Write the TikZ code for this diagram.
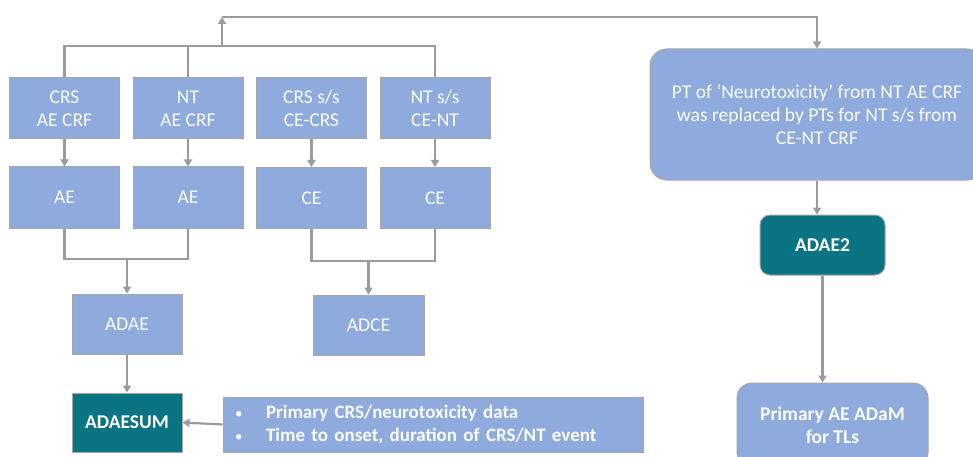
\documentclass[tikz,border=0pt]{standalone}
\usepackage{fontspec}
\setmainfont{Carlito}
\usetikzlibrary{arrows.meta}
\definecolor{boxblue}{HTML}{8FAADC}
\definecolor{boxedge}{HTML}{A6A6A6}
\definecolor{linegray}{HTML}{9E9A9A}
\definecolor{tealbox}{HTML}{0B7482}
\newcommand{\notebullet}{\makebox[31pt][l]{\fontsize{15}{23}\selectfont\mdseries\textbullet}}
\begin{document}
\begin{tikzpicture}[x=1pt,y=-1pt,
  box/.style={draw=boxedge,line width=1pt,fill=boxblue,text=white!96!boxblue,
    align=center,inner sep=0pt,minimum width=110pt,minimum height=61pt,
    font=\fontsize{19.5}{23}\selectfont},
  darkbox/.style={box,fill=tealbox,text=white,font=\fontsize{19.5}{23}\selectfont\bfseries},
  conn/.style={draw=linegray,line width=2.2pt},
  arr/.style={conn,-{Triangle[length=7pt,width=8pt]}}]
\useasboundingbox (0,0) rectangle (973,457);
% source CRFs
\node[box] (crs) at (64.5,108.5) {CRS\\AE CRF};
\node[box] (nt) at (188,108.5) {NT\\AE CRF};
\node[box] (crsss) at (311.5,108.5) {CRS s/s\\CE-CRS};
\node[box] (ntss) at (435,108.5) {NT s/s\\CE-NT};
% SDTM
\node[box] (ae1) at (64.5,197.5) {AE};
\node[box] (ae2) at (188,197.5) {AE};
\node[box] (ce1) at (311.5,198) {CE};
\node[box] (ce2) at (435,198) {CE};
% ADaM
\node[box,minimum height=60pt] (adae) at (127,324) {ADAE};
\node[box,minimum height=60pt,minimum width=111pt] (adce) at (368.5,325) {ADCE};
\node[darkbox,minimum height=59pt] (adaesum) at (127,422.5) {ADAESUM};
\node[box,minimum width=420pt,minimum height=55pt,text width=396pt,align=left,
  font=\fontsize{19}{23}\selectfont\bfseries] (notes) at (433,424.5)
  {\notebullet Primary CRS/neurotoxicity data\\
   \notebullet Time to onset, duration of CRS/NT event};
% right branch
\node[box,rounded corners=17pt,minimum width=334pt,minimum height=131pt] (ptbox)
  at (817,114.5) {PT of `Neurotoxicity' from NT AE CRF\\
  was replaced by PTs for NT s/s from\\CE-NT CRF};
\node[darkbox,rounded corners=10pt,minimum width=125pt,minimum height=60pt] (adae2)
  at (822.5,245) {ADAE2};
\node[box,rounded corners=15pt,minimum width=191pt,minimum height=84pt,
  font=\fontsize{19.5}{23}\selectfont\bfseries] (primary) at (832.5,425)
  {Primary AE ADaM\\for TLs};
\coordinate (bus) at (222,46);
\coordinate (top) at (222,17);
\coordinate (aejoin) at (127,259);
\coordinate (cejoin) at (368.5,261);
% connectors
\draw[conn] (crs.north) |- (ntss.north |- bus) -- (ntss.north);
\draw[conn] (nt.north) -- (nt.north |- bus);
\draw[arr] (bus) -- (top);
\draw[arr] (top) -| (ptbox.north);
\draw[arr] (crs) -- (ae1);
\draw[arr] (nt) -- (ae2);
\draw[arr] (crsss) -- (ce1);
\draw[arr] (ntss) -- (ce2);
\draw[conn] (ae1.south) |- (aejoin) -| (ae2.south);
\draw[arr] (aejoin) -- (adae.north);
\draw[conn] (ce1.south) |- (cejoin) -| (ce2.south);
\draw[arr] (cejoin) -- (adce.north);
\draw[arr] (adae) -- (adaesum);
\draw[arr] (notes.west) -- (adaesum.east);
\draw[arr] (ptbox.south) -- (ptbox.south |- adae2.north);
\draw[arr] (adae2.south) -- (adae2.south |- primary.north);
\end{tikzpicture}
\end{document}
